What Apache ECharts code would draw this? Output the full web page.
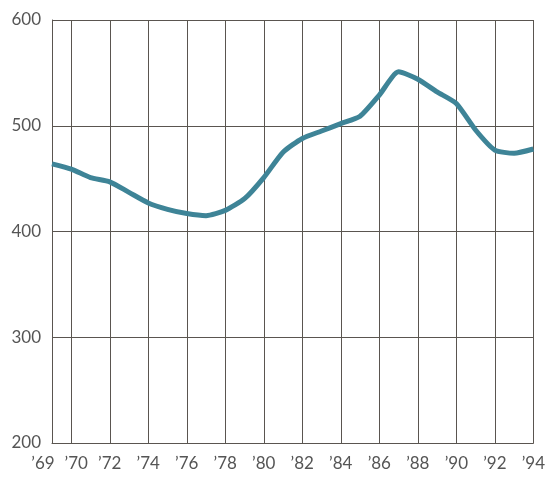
<!DOCTYPE html>
<html><head><meta charset="utf-8">
<script src="https://cdn.jsdelivr.net/npm/echarts@6/dist/echarts.min.js"></script>
<style>html,body{margin:0;padding:0;background:#fff}#c{width:548px;height:479px}</style>
</head><body><div id="c"></div>
<script>
var years = [1969,1970,1971,1972,1973,1974,1975,1976,1977,1978,1979,1980,1981,1982,1983,1984,1985,1986,1987,1988,1989,1990,1991,1992,1993,1994];
var values = [464,459,451,447,437,427,421,417,415,420,431,451,475,488,495,502,509,529,551,544,532,521,496,477,474,478];
var yTicks = [200,300,400,500,600];
function shown(i){ return i === 0 || years[i] % 2 === 0; }
function fmt(v){ var s='\u2019'+String(v).slice(2); return String(v)==='1970' ? '{r|'+s+'}' : String(v)==='1969' ? '{l|'+s+'}' : s; }
var rich = {l:{padding:[0,18,0,0],color:'#555',fontSize:17,fontFamily:'Lato'},r:{padding:[0,0,0,10],color:'#555',fontSize:17,fontFamily:'Lato'}};
var labelStyle = {color:'#555',fontSize:17,fontFamily:'Lato',margin:12,formatter:fmt,hideOverlap:false,rich:rich};
var chart = echarts.init(document.getElementById('c'));
chart.setOption({
  animation:false,
  grid:{left:52,right:12,top:20,bottom:36,containLabel:false},
  xAxis:[{type:'category',data:years,boundaryGap:false,
    axisLine:{show:true,lineStyle:{color:'#5a5550',width:1}},axisTick:{show:false},
    splitLine:{show:true,interval:function(i){return shown(i);},lineStyle:{color:'#5a5550',width:1}},
    axisLabel:Object.assign({},labelStyle,{interval:function(i){return i>0 && years[i]%2===0;}})},
   {type:'category',data:years,boundaryGap:false,position:'bottom',
    axisLine:{show:false},axisTick:{show:false},splitLine:{show:false},
    axisLabel:Object.assign({},labelStyle,{interval:function(i){return i===0;},showMinLabel:true})}],
  yAxis:{type:'value',min:yTicks[0],max:yTicks[yTicks.length-1],interval:100,
    axisLine:{show:true,lineStyle:{color:'#5a5550',width:1}},axisTick:{show:false},
    splitLine:{show:true,lineStyle:{color:'#5a5550',width:1}},
    axisLabel:{color:'#555',fontSize:17,fontFamily:'Lato',margin:11}},
  series:[{type:'line',data:values,symbol:'none',smooth:0.2,xAxisIndex:0,
    lineStyle:{color:'#3e8497',width:5}}]
});
</script></body></html>
